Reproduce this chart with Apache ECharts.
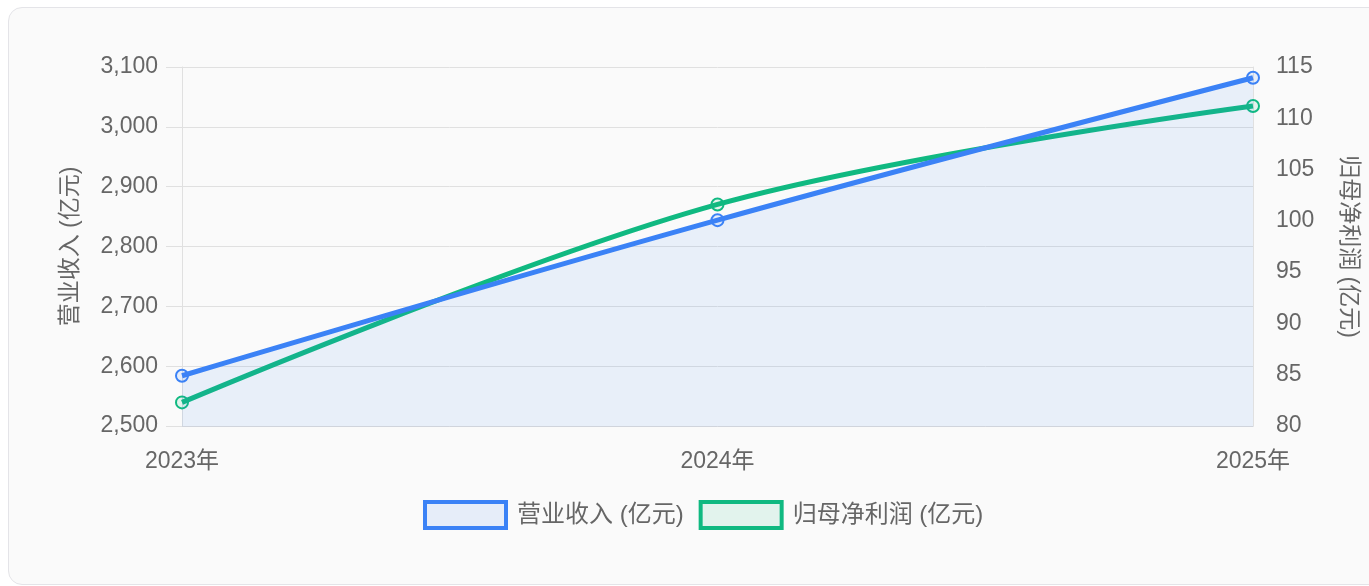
<!DOCTYPE html>
<html>
<head>
<meta charset="utf-8">
<script src="https://cdn.jsdelivr.net/npm/echarts@6/dist/echarts.min.js"></script>
<style>
  html, body { margin: 0; padding: 0; background: #ffffff; }
  body { width: 1369px; height: 586px; position: relative; overflow: hidden; }
  .card {
    position: absolute; left: 8px; top: 7px; width: 1390px; height: 576px;
    background: #fafafa; border: 1px solid #e4e4e8; border-radius: 14px;
  }
  #chart { position: absolute; left: 0; top: 0; width: 1369px; height: 586px; }
</style>
</head>
<body>
<div class="card"></div>
<div id="chart"></div>
<script>
// Years on the category axis
const years = ['2023年', '2024年', '2025年'];
// 营业收入 (亿元)
const revenue = [2584, 2844, 3082];
// 归母净利润 (亿元)
const netProfit = [82.3, 101.6, 111.2];
// Axis ranges
const revenueAxis = { min: 2500, max: 3100, interval: 100 };
const profitAxis = { min: 80, max: 115, interval: 5 };

const BLUE = '#3b82f6';
const GREEN = '#10b981';
const TEXT = '#666666';
const FONT = '"Liberation Sans", "Noto Sans CJK SC", sans-serif';
const FS = 23;

const chart = echarts.init(document.getElementById('chart'), null, { renderer: 'canvas' });

chart.setOption({
  animation: false,
  backgroundColor: 'transparent',
  textStyle: { fontFamily: FONT },
  grid: { left: 182, right: 116, top: 67, bottom: 160, containLabel: false },
  legend: {
    top: 495,
    left: 418,
    icon: 'rect',
    itemWidth: 81,
    itemHeight: 26,
    itemGap: 15,
    textStyle: { color: TEXT, fontSize: 24, fontFamily: FONT, padding: [0, 0, 0, 6] },
    data: [
      { name: '营业收入 (亿元)', itemStyle: { color: 'rgba(59,130,246,0.1)', borderColor: BLUE, borderWidth: 4 } },
      { name: '归母净利润 (亿元)', itemStyle: { color: 'rgba(16,185,129,0.1)', borderColor: GREEN, borderWidth: 4 } }
    ]
  },
  xAxis: {
    type: 'category',
    data: years,
    boundaryGap: false,
    axisLine: { show: true, lineStyle: { color: '#d0d4dc', width: 1 } },
    axisTick: { show: false },
    splitLine: { show: false },
    axisLabel: { color: TEXT, fontSize: FS, margin: 24, fontFamily: FONT }
  },
  yAxis: [
    {
      type: 'value',
      position: 'left',
      min: revenueAxis.min,
      max: revenueAxis.max,
      interval: revenueAxis.interval,
      name: '营业收入 (亿元)',
      nameLocation: 'middle',
      nameGap: 100,
      nameRotate: 90,
      nameTextStyle: { color: TEXT, fontSize: FS, fontFamily: FONT },
      axisLine: { show: true, lineStyle: { color: '#e0e0e0' } },
      axisTick: { show: true, length: 16, lineStyle: { color: '#e0e0e0' } },
      splitLine: { show: true, lineStyle: { color: '#e0e0e0', width: 1 } },
      axisLabel: {
        color: TEXT, fontSize: FS, margin: 24, fontFamily: FONT,
        formatter: v => v.toLocaleString('en-US')
      }
    },
    {
      type: 'value',
      position: 'right',
      min: profitAxis.min,
      max: profitAxis.max,
      interval: profitAxis.interval,
      name: '归母净利润 (亿元)',
      nameLocation: 'middle',
      nameGap: 84,
      nameRotate: -90,
      nameTextStyle: { color: TEXT, fontSize: FS, fontFamily: FONT },
      axisLine: { show: true, lineStyle: { color: '#e0e0e0' } },
      axisTick: { show: false },
      splitLine: { show: false },
      axisLabel: { color: TEXT, fontSize: FS, margin: 23, fontFamily: FONT }
    }
  ],
  series: [
    {
      name: '营业收入 (亿元)',
      type: 'line',
      yAxisIndex: 0,
      data: revenue,
      smooth: 0.35,
      symbol: 'circle',
      symbolSize: 12,
      showAllSymbol: true,
      lineStyle: { color: BLUE, width: 5 },
      itemStyle: { color: 'rgba(59,130,246,0.1)', borderColor: BLUE, borderWidth: 2 },
      areaStyle: { color: 'rgba(59,130,246,0.13)' },
      z: 3
    },
    {
      name: '归母净利润 (亿元)',
      type: 'line',
      yAxisIndex: 1,
      data: netProfit,
      smooth: 0.35,
      symbol: 'circle',
      symbolSize: 12,
      showAllSymbol: true,
      lineStyle: { color: GREEN, width: 5 },
      itemStyle: { color: 'rgba(16,185,129,0.1)', borderColor: GREEN, borderWidth: 2 },
      z: 2
    }
  ]
});
</script>
</body>
</html>
